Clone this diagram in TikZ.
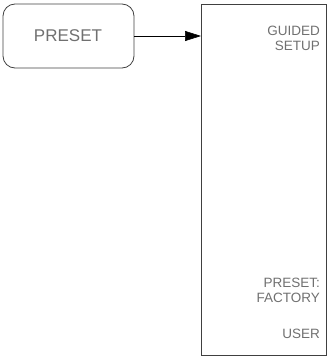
\documentclass[tikz,border=0pt]{standalone}
\usepackage{fontspec}
\setmainfont{Liberation Sans}
\usetikzlibrary{arrows.meta}
\definecolor{linegray}{HTML}{404040}
\definecolor{txtgray}{HTML}{707070}
\tikzset{
  keybox/.style={draw=linegray, line width=0.8pt, rounded corners=12pt},
  menubox/.style={draw=linegray, line width=0.8pt},
  keytext/.style={text=txtgray, font=\fontsize{17}{17}\selectfont},
  softkey/.style={text=txtgray, font=\fontsize{13.5}{15}\selectfont, anchor=east, align=right, inner sep=0pt},
  link/.style={draw=black, line width=0.6pt, -{Triangle[length=16pt,width=10pt]}}
}
\begin{document}
\begin{tikzpicture}[x=1pt,y=-1pt]
  \useasboundingbox (0,0) rectangle (331,359);
  % hardkey
  \draw[keybox] (3,4) rectangle (134,68);
  \node[keytext] (preset) at (68,36) {PRESET};
  \coordinate (keyout) at (134,36);
  % softkey menu
  \draw[menubox] (201,4) rectangle (326,355);
  \coordinate (menuin) at (201,36);
  \node[softkey] (guided) at (320,38) {GUIDED\\SETUP};
  \node[softkey] (factory) at (320,290) {PRESET:\\FACTORY};
  \node[softkey] (user) at (320,334) {USER};
  % connector
  \draw[link] (keyout) -- (menuin);
\end{tikzpicture}
\end{document}
